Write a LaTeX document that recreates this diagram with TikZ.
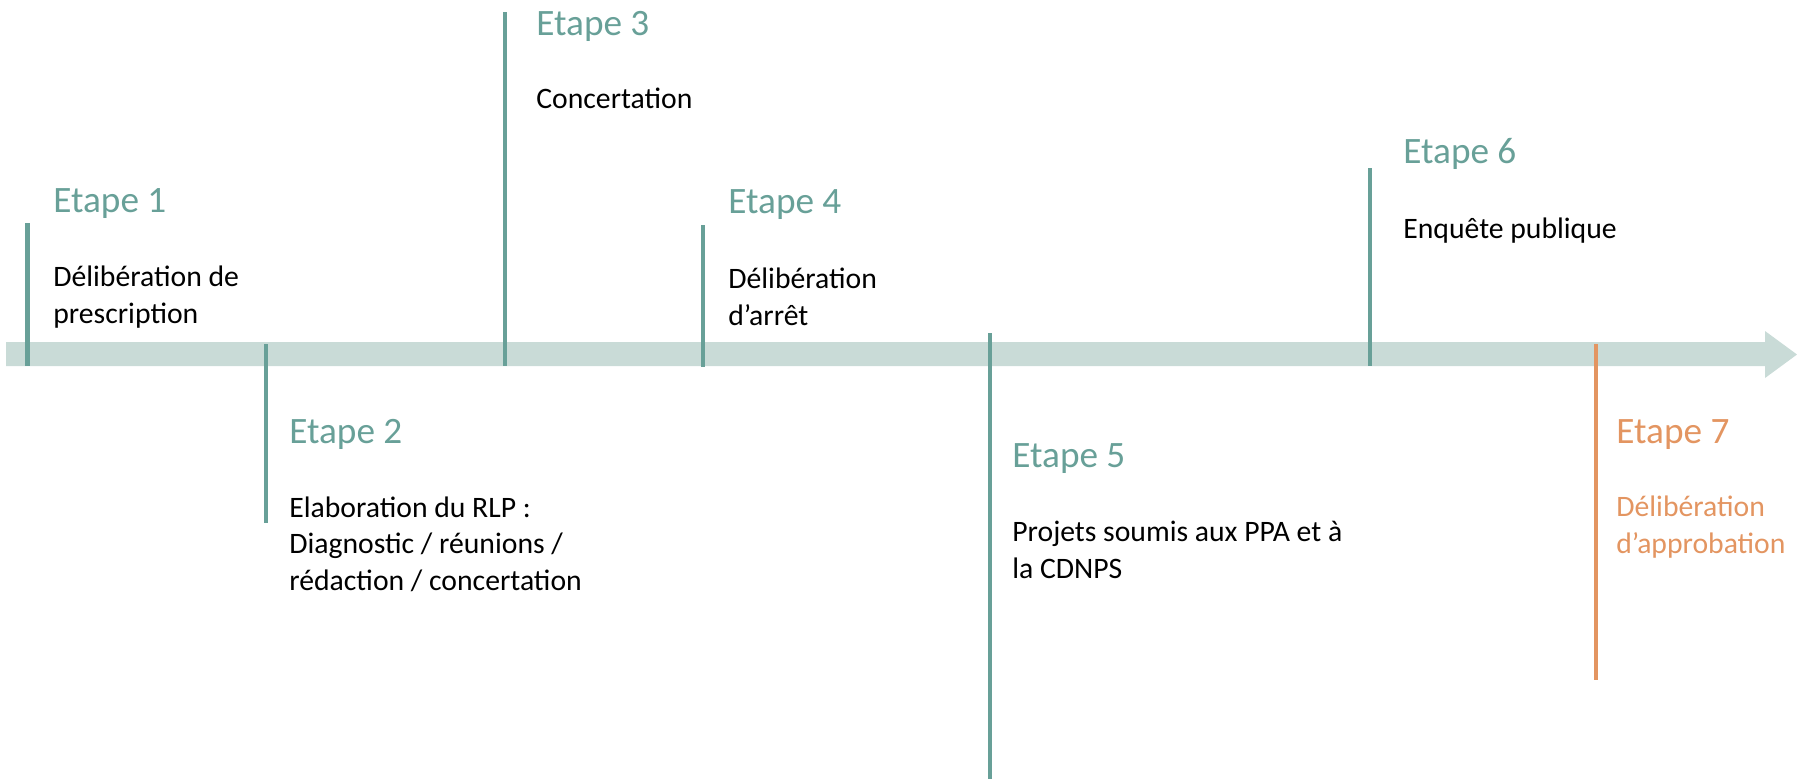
\documentclass[tikz,border=0pt]{standalone}
\usepackage{fontspec}
\setmainfont{Carlito}
\usepackage{tikz}
\definecolor{STEPteal}{RGB}{104,160,152}
\definecolor{BARgrey}{RGB}{201,219,215}
\definecolor{ENDorange}{RGB}{227,149,97}
\newcommand{\etapefont}{\fontsize{21.2}{25}\selectfont}
\newcommand{\descfont}{\fontsize{16.9}{20.6}\selectfont}
\tikzset{tick/.style={line width=2.7pt, color=STEPteal}}
\tikzset{etape/.style={anchor=base west, inner sep=0pt, font=\etapefont, text=STEPteal}}
% base of a multi-line desc is the baseline of its last line
\tikzset{desc/.style={anchor=base west, inner sep=0pt, font=\descfont, align=left}}

\begin{document}
\begin{tikzpicture}[x=0.02cm, y=-0.02cm]
  \useasboundingbox (0,0) rectangle (1797,779);

  % --- timeline bar ---
  \fill[BARgrey] (6,342) -- (1765,342) -- (1765,331) -- (1797,354.5)
                 -- (1765,378) -- (1765,366) -- (6,366) -- cycle;

  % --- Etape 1 ---
  \coordinate (T1a) at (27.6,223);
  \coordinate (T1b) at (27.6,366);
  \draw[tick] (T1a) -- (T1b);
  \node[etape] (E1) at (53,212) {Etape 1};
  \node[desc] (D1) at (53,323) {Délibération de\\prescription};

  % --- Etape 2 ---
  \coordinate (T2a) at (266,344);
  \coordinate (T2b) at (266,523);
  \draw[tick] (T2a) -- (T2b);
  \node[etape] (E2) at (289,443) {Etape 2};
  \node[desc] (D2) at (289,590) {Elaboration du RLP :\\Diagnostic / réunions /\\rédaction / concertation};

  % --- Etape 3 ---
  \coordinate (T3a) at (505,12);
  \coordinate (T3b) at (505,366);
  \draw[tick] (T3a) -- (T3b);
  \node[etape] (E3) at (536,35) {Etape 3};
  \node[desc] (D3) at (536,108) {Concertation};

  % --- Etape 4 ---
  \coordinate (T4a) at (703,225);
  \coordinate (T4b) at (703,367);
  \draw[tick] (T4a) -- (T4b);
  \node[etape] (E4) at (728,213) {Etape 4};
  \node[desc] (D4) at (728,325) {Délibération\\d’arrêt};

  % --- Etape 5 ---
  \coordinate (T5a) at (990,333);
  \coordinate (T5b) at (990,779);
  \draw[tick] (T5a) -- (T5b);
  \node[etape] (E5) at (1012,467) {Etape 5};
  \node[desc] (D5) at (1012,578) {Projets soumis aux PPA et à\\la CDNPS};

  % --- Etape 6 ---
  \coordinate (T6a) at (1370,168);
  \coordinate (T6b) at (1370,366);
  \draw[tick] (T6a) -- (T6b);
  \node[etape] (E6) at (1403,163) {Etape 6};
  \node[desc] (D6) at (1403,238) {Enquête publique};

  % --- Etape 7 ---
  \coordinate (T7a) at (1596,344);
  \coordinate (T7b) at (1596,680);
  \draw[tick, color=ENDorange] (T7a) -- (T7b);
  \node[etape, text=ENDorange] (E7) at (1616,443) {Etape 7};
  \node[desc, text=ENDorange] (D7) at (1616,553) {Délibération\\d’approbation};

\end{tikzpicture}
\end{document}
